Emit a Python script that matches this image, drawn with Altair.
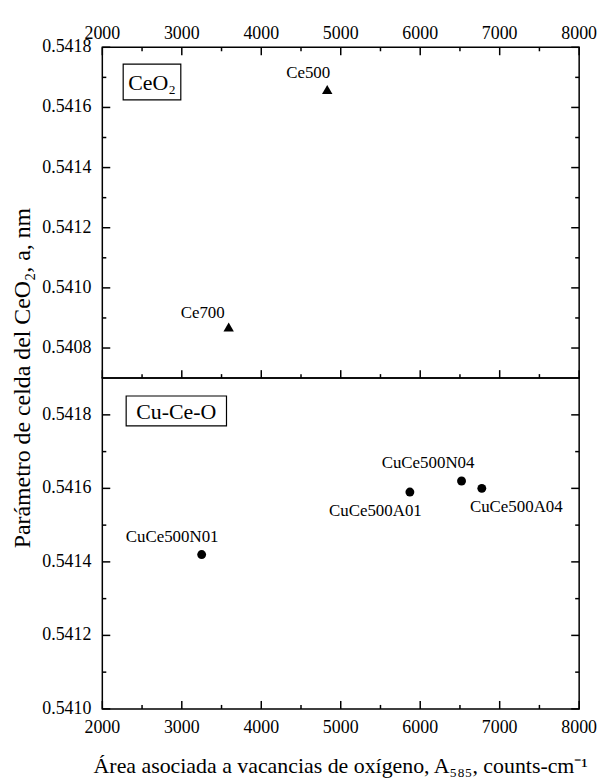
import altair as alt
import pandas as pd

# ---------------- data ----------------
CEO2_NAMES = ["Ce500", "Ce700"]
CEO2_AREA = [4830, 3590]
CEO2_A = [0.54166, 0.54087]

CUCEO_NAMES = ["CuCe500N01", "CuCe500A01", "CuCe500N04", "CuCe500A04"]
CUCEO_AREA = [3250, 5870, 6520, 6775]
CUCEO_A = [0.54142, 0.54159, 0.54162, 0.54160]

X_LABELS = [2000, 3000, 4000, 5000, 6000, 7000, 8000]
X_MINOR = [2500, 3500, 4500, 5500, 6500, 7500]
Y_TOP_LABELS = [0.5408, 0.5410, 0.5412, 0.5414, 0.5416, 0.5418]
Y_TOP_MINOR = [0.5409, 0.5411, 0.5413, 0.5415, 0.5417]
Y_BOT_LABELS = [0.5410, 0.5412, 0.5414, 0.5416, 0.5418]
Y_BOT_MINOR = [0.5411, 0.5413, 0.5415, 0.5417]

X_TITLE = "Área asociada a vacancias de oxígeno, A₅₈₅, counts-cm⁻¹"
Y_TITLE = "Parámetro de celda del CeO₂, a, nm"
BOX_TOP = "CeO₂"
BOX_BOT = "Cu-Ce-O"

# ---------------- style ----------------
W, H = 480, 333
FONT = "Liberation Serif"
MAJOR, MINOR = 8, 4
TICK_W = 1.5
TICK_FS = 18

LABEL_STYLE = {
    "Ce500": dict(align="right", dx=3, dy=-16),
    "Ce700": dict(align="right", dx=-4, dy=-14),
    "CuCe500N01": dict(align="right", dx=17, dy=-18),
    "CuCe500N04": dict(align="right", dx=13, dy=-18),
    "CuCe500A01": dict(align="right", dx=12, dy=19),
    "CuCe500A04": dict(align="left", dx=-12, dy=19),
}


def x_ticks(values, xs, side, size):
    d = pd.DataFrame({"tick": values})
    yc = H - size / 2 if side == "bottom" else size / 2
    return alt.Chart(d).mark_tick(color="black", orient="vertical", size=size,
                                  thickness=TICK_W, opacity=1).encode(
        x=alt.X("tick:Q", scale=xs, axis=None),
        y=alt.value(yc),
    )


def y_ticks(values, ys, side, size):
    d = pd.DataFrame({"tick": values})
    xc = size / 2 if side == "left" else W - size / 2
    return alt.Chart(d).mark_tick(color="black", orient="horizontal", size=size,
                                  thickness=TICK_W, opacity=1).encode(
        y=alt.Y("tick:Q", scale=ys, axis=None),
        x=alt.value(xc),
    )


def x_labels(xs, side):
    d = pd.DataFrame({"v": X_LABELS})
    ypos = -8 if side == "top" else H + 24
    return alt.Chart(d).mark_text(font=FONT, fontSize=TICK_FS, color="black",
                                  align="center", baseline="alphabetic").encode(
        x=alt.X("v:Q", scale=xs, axis=None),
        y=alt.value(ypos),
        text=alt.Text("v:Q", format="d"),
    )


def y_labels(values, ys):
    d = pd.DataFrame({"v": values})
    return alt.Chart(d).mark_text(font=FONT, fontSize=TICK_FS, color="black",
                                  align="right", baseline="middle").encode(
        y=alt.Y("v:Q", scale=ys, axis=None),
        x=alt.value(-11),
        text=alt.Text("v:Q", format=".4f"),
    )


def panel(names, area, a, shape, size, ydom, ylabels, yminor, top, box_text, box):
    df = pd.DataFrame({"name": names, "area": area, "a": a})
    xs = alt.Scale(domain=[2000, 8000], nice=False, zero=False)
    ys = alt.Scale(domain=ydom, nice=False, zero=False)
    base = alt.Chart(df)

    main = base.mark_point(shape=shape, filled=True, size=size, color="black",
                           opacity=1).encode(
        x=alt.X("area:Q", scale=xs, axis=None),
        y=alt.Y("a:Q", scale=ys, axis=None),
    )

    layers = [main]
    x_sides = ["bottom", "top"] if top else ["bottom"]
    for xv, yv, sz in [(X_LABELS, ylabels, MAJOR), (X_MINOR, yminor, MINOR)]:
        for s in x_sides:
            layers.append(x_ticks(xv, xs, s, sz))
        for s in ["left", "right"]:
            layers.append(y_ticks(yv, ys, s, sz))

    layers.append(x_labels(xs, "top" if top else "bottom"))
    layers.append(y_labels(ylabels, ys))

    tdf = pd.DataFrame({"t": [Y_TITLE if top else X_TITLE]})
    if top:
        layers.append(alt.Chart(tdf).mark_text(
            font=FONT, fontSize=24, color="black", angle=270,
            align="center", baseline="middle").encode(
            x=alt.value(-80), y=alt.value(H), text="t:N"))
    else:
        layers.append(alt.Chart(tdf).mark_text(
            font=FONT, fontSize=22, color="black",
            align="center", baseline="alphabetic").encode(
            x=alt.value(W / 2), y=alt.value(H + 65), text="t:N"))

    for n in names:
        st = LABEL_STYLE[n]
        layers.append(
            base.transform_filter(alt.datum.name == n).mark_text(
                font=FONT, fontSize=17, baseline="middle", color="black", **st
            ).encode(
                x=alt.X("area:Q", scale=xs, axis=None),
                y=alt.Y("a:Q", scale=ys, axis=None),
                text="name:N",
            )
        )

    bx0, bx1, by0, by1 = box
    bdf = pd.DataFrame({"t": [box_text]})
    layers.append(alt.Chart(bdf).mark_rect(fillOpacity=0, stroke="black",
                                           strokeWidth=1.2).encode(
        x=alt.value(bx0), x2=alt.value(bx1), y=alt.value(by0), y2=alt.value(by1)
    ))
    layers.append(alt.Chart(bdf).mark_text(font=FONT, fontSize=22, align="center",
                                           baseline="middle", color="black").encode(
        x=alt.value((bx0 + bx1) / 2), y=alt.value((by0 + by1) / 2 + 1), text="t:N"
    ))

    return alt.layer(*layers).properties(width=W, height=H)


top = panel(CEO2_NAMES, CEO2_AREA, CEO2_A, "triangle-up", 110, [0.5407, 0.5418],
            Y_TOP_LABELS, Y_TOP_MINOR, True, BOX_TOP, (21, 79, 17, 53))
bot = panel(CUCEO_NAMES, CUCEO_AREA, CUCEO_A, "circle", 80, [0.5410, 0.5419],
            Y_BOT_LABELS, Y_BOT_MINOR, False, BOX_BOT, (24, 125, 18, 48))

chart = alt.vconcat(top, bot, spacing=0, bounds="flush").properties(
    padding={"left": 10, "top": 22, "right": 5, "bottom": 5},
    background="white",
).configure_view(
    stroke="black", strokeWidth=1.5
)

chart.save("out.html", embed_options={"renderer": "svg", "actions": False})
